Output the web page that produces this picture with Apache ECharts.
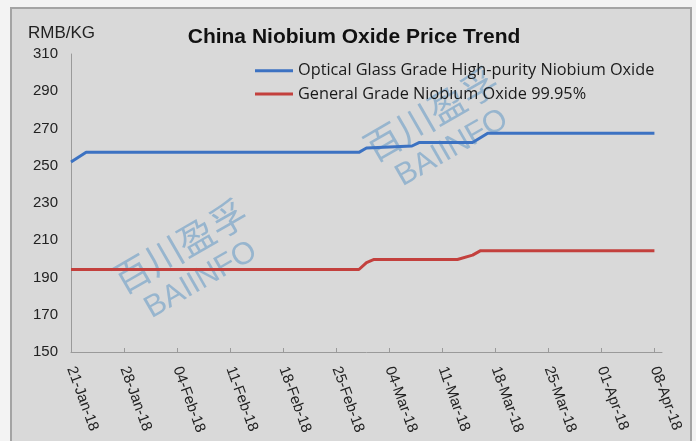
<!DOCTYPE html>
<html lang="en">
<head>
    <meta charset="UTF-8">
    <title>China Niobium Oxide Price Trend</title>
    <script src="https://cdn.jsdelivr.net/npm/echarts@6/dist/echarts.min.js"></script>
    <style>
        body {
            margin: 0;
            background: #f3f3f3;
        }
        #panel {
            position: absolute;
            left: 10px;
            top: 7px;
            width: 678px;
            height: 450px;
            background: #d9d9d9;
            border: 2px solid #a4a4a4;
        }
        #chart {
            position: absolute;
            left: 0;
            top: 0;
            width: 696px;
            height: 441px;
        }
    </style>
</head>
<body>
<div id="panel"></div>
<div id="chart"></div>
<script type="text/javascript">
    const startDate = '2018-01-21';
    const tickLabels = ['21-Jan-18', '28-Jan-18', '04-Feb-18', '11-Feb-18', '18-Feb-18', '25-Feb-18',
        '04-Mar-18', '11-Mar-18', '18-Mar-18', '25-Mar-18', '01-Apr-18', '08-Apr-18'];
    const tickDays = [0, 7, 14, 21, 28, 35, 42, 49, 56, 63, 70, 77];

    const opticalName = 'Optical Glass Grade High-purity Niobium Oxide';
    const opticalDates = ['2018-01-21', '2018-01-23', '2018-02-28', '2018-03-01', '2018-03-07',
        '2018-03-08', '2018-03-15', '2018-03-17', '2018-04-08'];
    const opticalPrices = [252, 257.2, 257.2, 259.5, 260.6, 262.5, 262.5, 267.5, 267.5];

    const generalName = 'General Grade Niobium Oxide 99.95%';
    const generalDates = ['2018-01-21', '2018-02-28', '2018-03-01', '2018-03-02', '2018-03-13',
        '2018-03-15', '2018-03-16', '2018-04-08'];
    const generalPrices = [194.3, 194.3, 198, 199.7, 199.7, 202, 204.3, 204.3];

    function dayOf(d) {
        return (Date.parse(d) - Date.parse(startDate)) / 86400000;
    }

    function pairs(dates, values) {
        return dates.map((d, i) => [dayOf(d), values[i]]);
    }

    function watermark(cx, cy) {
        return {
            type: 'group',
            x: cx,
            y: cy,
            rotation: 30 * Math.PI / 180,
            z: 1,
            children: [
                {
                    type: 'text',
                    x: 0,
                    y: 0,
                    style: {
                        text: '百川盈孚',
                        font: '37px "Noto Sans CJK SC"',
                        fill: 'rgba(60,130,190,0.42)',
                        align: 'center',
                        verticalAlign: 'middle'
                    }
                },
                {
                    type: 'text',
                    x: 1,
                    y: 40,
                    style: {
                        text: 'BAIINFO',
                        font: '31px "Liberation Sans", Arial, sans-serif',
                        fill: 'rgba(60,130,190,0.42)',
                        align: 'center',
                        verticalAlign: 'middle'
                    }
                }
            ]
        };
    }

    let chart = echarts.init(document.getElementById('chart'));
    chart.setOption({
        backgroundColor: 'transparent',
        animation: false,
        textStyle: {
            fontFamily: '"Liberation Sans", Arial, sans-serif'
        },
        title: {
            text: 'China Niobium Oxide Price Trend',
            left: 354,
            top: 27,
            padding: 0,
            textAlign: 'center',
            textStyle: {
                fontSize: 21,
                fontWeight: 'bold',
                color: '#111'
            }
        },
        legend: {
            orient: 'vertical',
            left: 255,
            top: 62.7,
            padding: 0,
            icon: 'rect',
            itemWidth: 38,
            itemHeight: 3,
            itemGap: 7.2,
            textStyle: {
                fontFamily: '"Open Sans", sans-serif',
                fontSize: 16.3,
                lineHeight: 14,
                color: '#1a1a1a'
            },
            data: [opticalName, generalName]
        },
        grid: {
            left: 71,
            right: 34,
            top: 54,
            bottom: 89
        },
        graphic: [
            {
                type: 'text',
                left: 28,
                top: 25,
                style: {
                    text: 'RMB/KG',
                    font: '17px "Liberation Sans", Arial, sans-serif',
                    fill: '#222'
                }
            },
            watermark(180, 246),
            watermark(431, 114)
        ],
        xAxis: {
            type: 'value',
            min: 0,
            max: 78,
            splitLine: {show: false},
            axisLine: {lineStyle: {color: '#9a9a9a', width: 1}},
            axisTick: {
                inside: true,
                length: 4,
                customValues: tickDays,
                lineStyle: {color: '#9a9a9a'}
            },
            axisLabel: {
                customValues: tickDays,
                rotate: -70,
                margin: 15,
                fontSize: 15,
                color: '#222',
                formatter: v => tickLabels[tickDays.indexOf(v)] || ''
            }
        },
        yAxis: {
            type: 'value',
            min: 150,
            max: 310,
            interval: 20,
            splitLine: {show: false},
            axisLine: {show: true, lineStyle: {color: '#9a9a9a', width: 1}},
            axisTick: {show: false},
            axisLabel: {
                margin: 13,
                fontSize: 15,
                color: '#222'
            }
        },
        series: [
            {
                name: opticalName,
                type: 'line',
                symbol: 'none',
                z: 3,
                color: '#3c72c2',
                lineStyle: {width: 3, color: '#3c72c2'},
                data: pairs(opticalDates, opticalPrices)
            },
            {
                name: generalName,
                type: 'line',
                symbol: 'none',
                z: 3,
                color: '#c3403d',
                lineStyle: {width: 3, color: '#c3403d'},
                data: pairs(generalDates, generalPrices)
            }
        ]
    });
</script>
</body>
</html>
